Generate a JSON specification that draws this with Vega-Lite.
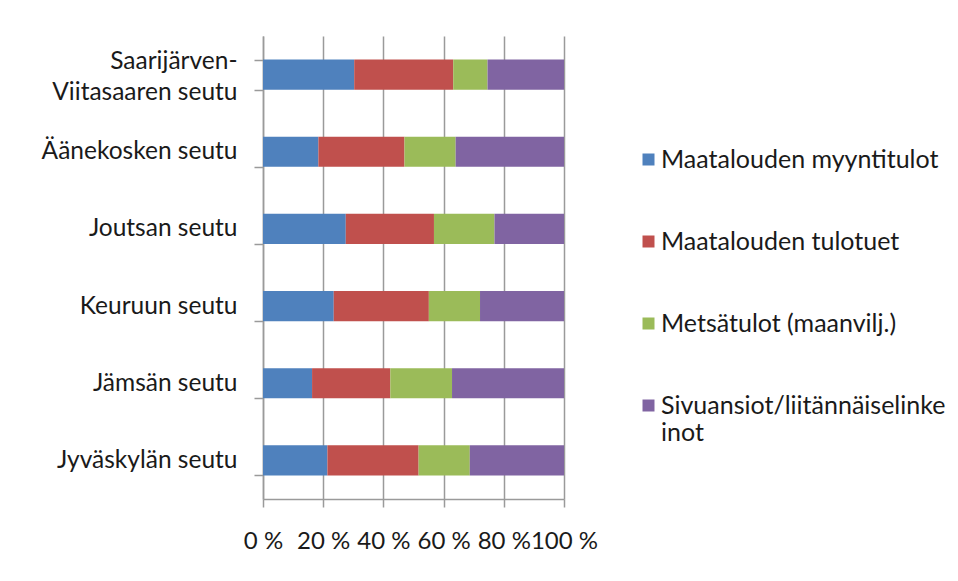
{
  "$schema": "https://vega.github.io/schema/vega-lite/v6.json",
  "autosize": {"type": "none"},
  "padding": {"left": 263, "top": 36, "right": 394, "bottom": 82},
  "width": 301,
  "height": 463,
  "background": "white",
  "config": {
    "font": "Lato",
    "view": {"stroke": null}
  },
  "data": {
    "values": [
      {"seutu": "Saarijärven-Viitasaaren seutu", "tulo": "Maatalouden myyntitulot", "o": 1, "v": 30.3},
      {"seutu": "Saarijärven-Viitasaaren seutu", "tulo": "Maatalouden tulotuet", "o": 2, "v": 32.9},
      {"seutu": "Saarijärven-Viitasaaren seutu", "tulo": "Metsätulot (maanvilj.)", "o": 3, "v": 11.4},
      {"seutu": "Saarijärven-Viitasaaren seutu", "tulo": "Sivuansiot/liitännäiselinkeinot", "o": 4, "v": 25.4},
      {"seutu": "Äänekosken seutu", "tulo": "Maatalouden myyntitulot", "o": 1, "v": 18.4},
      {"seutu": "Äänekosken seutu", "tulo": "Maatalouden tulotuet", "o": 2, "v": 28.6},
      {"seutu": "Äänekosken seutu", "tulo": "Metsätulot (maanvilj.)", "o": 3, "v": 17.0},
      {"seutu": "Äänekosken seutu", "tulo": "Sivuansiot/liitännäiselinkeinot", "o": 4, "v": 36.0},
      {"seutu": "Joutsan seutu", "tulo": "Maatalouden myyntitulot", "o": 1, "v": 27.5},
      {"seutu": "Joutsan seutu", "tulo": "Maatalouden tulotuet", "o": 2, "v": 29.3},
      {"seutu": "Joutsan seutu", "tulo": "Metsätulot (maanvilj.)", "o": 3, "v": 20.1},
      {"seutu": "Joutsan seutu", "tulo": "Sivuansiot/liitännäiselinkeinot", "o": 4, "v": 23.1},
      {"seutu": "Keuruun seutu", "tulo": "Maatalouden myyntitulot", "o": 1, "v": 23.5},
      {"seutu": "Keuruun seutu", "tulo": "Maatalouden tulotuet", "o": 2, "v": 31.6},
      {"seutu": "Keuruun seutu", "tulo": "Metsätulot (maanvilj.)", "o": 3, "v": 17.0},
      {"seutu": "Keuruun seutu", "tulo": "Sivuansiot/liitännäiselinkeinot", "o": 4, "v": 27.9},
      {"seutu": "Jämsän seutu", "tulo": "Maatalouden myyntitulot", "o": 1, "v": 16.3},
      {"seutu": "Jämsän seutu", "tulo": "Maatalouden tulotuet", "o": 2, "v": 26.0},
      {"seutu": "Jämsän seutu", "tulo": "Metsätulot (maanvilj.)", "o": 3, "v": 20.5},
      {"seutu": "Jämsän seutu", "tulo": "Sivuansiot/liitännäiselinkeinot", "o": 4, "v": 37.2},
      {"seutu": "Jyväskylän seutu", "tulo": "Maatalouden myyntitulot", "o": 1, "v": 21.4},
      {"seutu": "Jyväskylän seutu", "tulo": "Maatalouden tulotuet", "o": 2, "v": 30.3},
      {"seutu": "Jyväskylän seutu", "tulo": "Metsätulot (maanvilj.)", "o": 3, "v": 17.0},
      {"seutu": "Jyväskylän seutu", "tulo": "Sivuansiot/liitännäiselinkeinot", "o": 4, "v": 31.3}
    ]
  },
  "mark": {"type": "bar"},
  "encoding": {
    "y": {
      "field": "seutu",
      "type": "nominal",
      "sort": ["Saarijärven-Viitasaaren seutu", "Äänekosken seutu", "Joutsan seutu", "Keuruun seutu", "Jämsän seutu", "Jyväskylän seutu"],
      "scale": {"paddingInner": 0.61, "paddingOuter": 0.305},
      "axis": {
        "title": null,
        "tickBand": "extent",
        "tickSize": 9,
        "tickColor": "#9a9a9a",
        "tickWidth": 1.5,
        "domainColor": "#9a9a9a",
        "domainWidth": 1.5,
        "labelPadding": 17,
        "labelFontSize": 24.5,
        "labelColor": "#1a1a1a",
        "labelLineHeight": 31,
        "labelLimit": 300,
        "labelOffset": {"condition": {"test": "datum.value == 'Saarijärven-Viitasaaren seutu'", "value": -13}, "value": 0},
        "labelExpr": "datum.label == 'Saarijärven-Viitasaaren seutu' ? ['Saarijärven-', 'Viitasaaren seutu'] : datum.label"
      }
    },
    "x": {
      "field": "v",
      "type": "quantitative",
      "stack": "normalize",
      "scale": {"domain": [0, 1], "nice": false},
      "axis": {
        "title": null,
        "values": [0, 0.2, 0.4, 0.6, 0.8, 1],
        "labelExpr": "round(datum.value * 100) + ' %'",
        "grid": true,
        "gridColor": "#9a9a9a",
        "gridWidth": 1.5,
        "tickSize": 8,
        "tickColor": "#9a9a9a",
        "tickWidth": 1.5,
        "domainColor": "#9a9a9a",
        "domainWidth": 1.5,
        "labelFontSize": 24,
        "labelColor": "#1a1a1a",
        "labelPadding": 22,
        "labelFlush": false,
        "labelOverlap": false
      }
    },
    "color": {
      "field": "tulo",
      "type": "nominal",
      "scale": {
        "domain": ["Maatalouden myyntitulot", "Maatalouden tulotuet", "Metsätulot (maanvilj.)", "Sivuansiot/liitännäiselinkeinot"],
        "range": ["#4F81BD", "#C0504D", "#9BBB59", "#8064A2"]
      },
      "legend": {
        "title": null,
        "orient": "none",
        "legendX": 373,
        "legendY": 111,
        "padding": 0,
        "symbolType": "square",
        "symbolSize": 144,
        "symbolStrokeWidth": 0,
        "labelFontSize": 25,
        "labelColor": "#1a1a1a",
        "labelOffset": 0,
        "labelLimit": 400,
        "labelLineHeight": 29,
        "rowPadding": 56,
        "labelExpr": "datum.label == 'Sivuansiot/liitännäiselinkeinot' ? ['Sivuansiot/liitännäiselinke', 'inot'] : datum.label"
      }
    },
    "order": {"field": "o", "type": "quantitative"}
  }
}
